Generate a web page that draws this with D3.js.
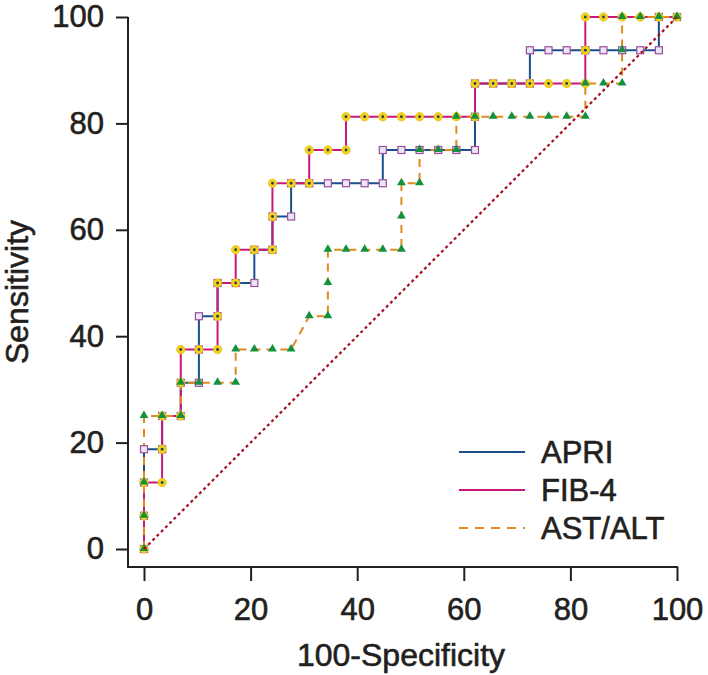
<!DOCTYPE html>
<html><head><meta charset="utf-8">
<script src="https://cdn.jsdelivr.net/npm/d3@7"></script>
<style>body{margin:0;background:#fff}svg{display:block}text{font-family:"Liberation Sans",Arial,sans-serif;fill:#231f20;stroke:#231f20;stroke-width:0.6px}</style>
</head><body><svg id="c" width="708" height="675"></svg>
<script>
const xTicks=[0,20,40,60,80,100];
const yTicks=[0,20,40,60,80,100];
const seriesNames=["APRI","FIB-4","AST/ALT"];
const apriX=[0,0,0,0,3.4,3.4,6.9,6.9,10.3,10.3,10.3,13.8,13.8,17.2,20.7,20.7,24.1,24.1,27.6,27.6,31.0,34.5,37.9,41.4,44.8,44.8,48.3,51.7,55.2,58.6,62.1,62.1,62.1,65.5,69.0,72.4,72.4,75.9,79.3,82.8,86.2,89.7,93.1,96.6,96.6,100];
const apriY=[0,6.25,12.5,18.75,18.75,25,25,31.25,31.25,37.5,43.75,43.75,50,50,50,56.25,56.25,62.5,62.5,68.75,68.75,68.75,68.75,68.75,68.75,75,75,75,75,75,75,81.25,87.5,87.5,87.5,87.5,93.75,93.75,93.75,93.75,93.75,93.75,93.75,93.75,100,100];
const fibX=[0,0,0,3.4,3.4,3.4,6.9,6.9,6.9,10.3,13.8,13.8,13.8,17.2,17.2,20.7,24.1,24.1,24.1,27.6,31.0,31.0,34.5,37.9,37.9,41.4,44.8,48.3,51.7,55.2,58.6,62.1,62.1,65.5,69.0,72.4,75.9,79.3,82.8,82.8,82.8,86.2,89.7,93.1,96.6,100];
const fibY=[0,6.25,12.5,12.5,18.75,25,25,31.25,37.5,37.5,37.5,43.75,50,50,56.25,56.25,56.25,62.5,68.75,68.75,68.75,75,75,75,81.25,81.25,81.25,81.25,81.25,81.25,81.25,81.25,87.5,87.5,87.5,87.5,87.5,87.5,87.5,93.75,100,100,100,100,100,100];
const astX=[0,0,0,0,3.4,6.9,6.9,10.3,13.8,17.2,17.2,20.7,24.1,27.6,31.0,34.5,34.5,34.5,37.9,41.4,44.8,48.3,48.3,48.3,51.7,51.7,55.2,58.6,58.6,62.1,65.5,69.0,72.4,75.9,79.3,82.8,82.8,86.2,89.7,89.7,89.7,93.1,96.6,100];
const astY=[0,6.25,12.5,25,25,25,31.25,31.25,31.25,31.25,37.5,37.5,37.5,37.5,43.75,43.75,50,56.25,56.25,56.25,56.25,56.25,62.5,68.75,68.75,75,75,75,81.25,81.25,81.25,81.25,81.25,81.25,81.25,81.25,87.5,87.5,87.5,93.75,100,100,100,100];
const refX=[0,100], refY=[0,100];

const svg=d3.select("#c");
const x=d3.scaleLinear().domain([0,100]).range([144,677]);
const y=d3.scaleLinear().domain([0,100]).range([549,17]);
const ink="#231f20";
const C={apri:"#1b4f8c",fib:"#c8187c",ast:"#e08a1f",tri:"#13913f",diag:"#a3101f"};
const pts=(X,Y)=>X.map((v,i)=>[v,Y[i]]);
const line=d3.line().x(d=>x(d[0])).y(d=>y(d[1]));

// axes
const gy=svg.append("g").attr("transform","translate(128,0)")
 .call(d3.axisLeft(y).tickValues(yTicks).tickSize(12).tickSizeOuter(0).tickPadding(12));
gy.select(".domain").remove();
gy.selectAll("line").attr("stroke",ink).attr("stroke-width",2);
gy.selectAll("text").attr("font-size",31).attr("font-family","Liberation Sans, Arial").attr("fill",ink);
svg.append("line").attr("x1",128).attr("x2",128).attr("y1",y(100)).attr("y2",568).attr("stroke",ink).attr("stroke-width",2);

const gx=svg.append("g").attr("transform","translate(0,567)")
 .call(d3.axisBottom(x).tickValues(xTicks).tickSize(14).tickSizeOuter(0).tickPadding(17));
gx.select(".domain").remove();
gx.selectAll("line").attr("stroke",ink).attr("stroke-width",2);
gx.selectAll("text").attr("font-size",31).attr("font-family","Liberation Sans, Arial").attr("fill",ink);
svg.append("line").attr("x1",127).attr("x2",x(100)+1).attr("y1",567).attr("y2",567).attr("stroke",ink).attr("stroke-width",2);

svg.append("text").attr("transform","translate(28,292) rotate(-90)").attr("text-anchor","middle").attr("font-size",32).text("Sensitivity");
svg.append("text").attr("x",401).attr("y",666).attr("text-anchor","middle").attr("font-size",32).text("100-Specificity");

// curves
svg.append("path").datum(pts(apriX,apriY)).attr("d",line).attr("fill","none").attr("stroke",C.apri).attr("stroke-width",2);
svg.append("path").datum(pts(fibX,fibY)).attr("d",line).attr("fill","none").attr("stroke",C.fib).attr("stroke-width",2);
svg.append("path").datum(pts(astX,astY)).attr("d",line).attr("fill","none").attr("stroke",C.ast).attr("stroke-width",2).attr("stroke-dasharray","8,6");

// markers
svg.append("g").selectAll("rect").data(pts(apriX,apriY)).join("rect")
 .attr("x",d=>x(d[0])-3.5).attr("y",d=>y(d[1])-3.5).attr("width",7).attr("height",7)
 .attr("fill","#e8e6f7").attr("stroke","#9a4f98").attr("stroke-width",1.2);
const gc=svg.append("g");
gc.selectAll("circle.o").data(pts(fibX,fibY)).join("circle").attr("class","o")
 .attr("cx",d=>x(d[0])).attr("cy",d=>y(d[1])).attr("r",4.2).attr("fill","#f4d21a").attr("stroke","#e8c020").attr("stroke-width",0.8);
gc.selectAll("circle.i").data(pts(fibX,fibY)).join("circle").attr("class","i")
 .attr("cx",d=>x(d[0])).attr("cy",d=>y(d[1])).attr("r",1.4).attr("fill","#1f4360");
const tri=d3.symbol().type(d3.symbolTriangle).size(34);
svg.append("g").selectAll("path").data(pts(astX,astY)).join("path")
 .attr("transform",d=>`translate(${x(d[0])},${y(d[1])-0.5})`).attr("d",tri).attr("fill",C.tri);

// reference diagonal
svg.append("path").datum(pts(refX,refY)).attr("d",line).attr("fill","none").attr("stroke",C.diag).attr("stroke-width",2.2).attr("stroke-dasharray","3,3");

// legend
const lg=[{n:seriesNames[0],c:C.apri,d:null,y:452},{n:seriesNames[1],c:C.fib,d:null,y:490},{n:seriesNames[2],c:C.ast,d:"9,7",y:528}];
lg.forEach(o=>{
 svg.append("line").attr("x1",459).attr("x2",525).attr("y1",o.y).attr("y2",o.y).attr("stroke",o.c).attr("stroke-width",2).attr("stroke-dasharray",o.d);
 svg.append("text").attr("x",541).attr("y",o.y+11).attr("font-size",31).text(o.n);
});
</script></body></html>
